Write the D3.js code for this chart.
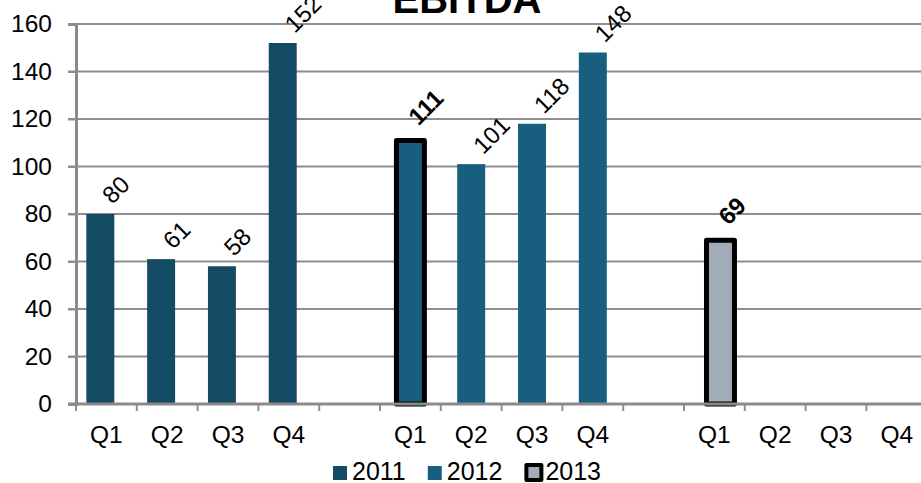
<!DOCTYPE html>
<html>
<head>
<meta charset="utf-8">
<script src="https://cdn.jsdelivr.net/npm/d3@7"></script>
<style>
  body { margin: 0; background: #fff; }
  svg { display: block; font-family: "Liberation Sans", Arial, sans-serif; }
</style>
</head>
<body>
<div id="chart"></div>
<script>
// chart data
var quarters = ["Q1", "Q2", "Q3", "Q4"];
var years = ["2011", "2012", "2013"];
var values2011 = [80, 61, 58, 152];
var values2012 = [111, 101, 118, 148];
var values2013 = [69, null, null, null];
var outlined = [["2012", "Q1"], ["2013", "Q1"]];
var yTicks = [0, 20, 40, 60, 80, 100, 120, 140, 160];

var colors = { "2011": "#134a64", "2012": "#185e7e", "2013": "#a1acb8" };

var seriesValues = { "2011": values2011, "2012": values2012, "2013": values2013 };

var width = 921, height = 483;
var margin = { top: 24, left: 76, bottom: 79 };
var slot = 60.8;

var svg = d3.select("#chart").append("svg")
    .attr("width", width)
    .attr("height", height);

// one slot per quarter plus an empty slot between years
var slots = [];
years.forEach(function(y, i) {
    quarters.forEach(function(q) { slots.push(y + "-" + q); });
    if (i < years.length - 1) slots.push(y + "-gap");
});

var x = d3.scaleBand()
    .domain(slots)
    .range([margin.left, margin.left + slots.length * slot])
    .padding(0);

var y = d3.scaleLinear()
    .domain([0, 160])
    .range([height - margin.bottom, margin.top]);

var offset = d3.scalePoint()
    .domain(years)
    .range([-x.bandwidth() * 0.1, x.bandwidth() * 0.1]);

var barW = x.bandwidth() * 0.46;

// gridlines
svg.append("g")
    .selectAll("line")
    .data(yTicks.slice(1))
    .enter().append("line")
        .attr("x1", margin.left - 8)
        .attr("x2", width)
        .attr("y1", function(d) { return y(d); })
        .attr("y2", function(d) { return y(d); })
        .attr("stroke", "#8e8e8e")
        .attr("stroke-width", 2);

// y axis
var yAxis = svg.append("g")
    .attr("transform", "translate(" + margin.left + ",0)")
    .call(d3.axisLeft(y).tickValues(yTicks).tickSize(8).tickPadding(16));
yAxis.select(".domain").attr("stroke", "#8a8a8a").attr("stroke-width", 3);
yAxis.selectAll(".tick line").attr("stroke", "#8e8e8e").attr("stroke-width", 2);
yAxis.selectAll(".tick text").attr("font-size", 24.5).attr("fill", "#000")
    .attr("font-family", "Liberation Sans, Arial, sans-serif");

// bars
var bars = [];
years.forEach(function(yr) {
    seriesValues[yr].forEach(function(v, i) {
        if (v == null) return;
        var isOut = outlined.some(function(o) { return o[0] === yr && o[1] === quarters[i]; });
        bars.push({ year: yr, q: quarters[i], value: v, outlined: isOut });
    });
});

function cx(d) { return x(d.year + "-" + d.q) + x.bandwidth() / 2 + offset(d.year); }

svg.append("g")
    .selectAll("rect")
    .data(bars)
    .enter().append("rect")
        .attr("x", function(d) { return cx(d) - barW / 2; })
        .attr("y", function(d) { return y(d.value); })
        .attr("width", barW)
        .attr("height", function(d) { return y(0) - y(d.value); })
        .attr("fill", function(d) { return colors[d.year]; })
        .attr("stroke", function(d) { return d.outlined ? "#000" : "none"; })
        .attr("stroke-width", 5)
        .attr("stroke-linejoin", "round");

// x axis line and tick marks at slot edges
svg.append("line")
    .attr("x1", margin.left - 8).attr("x2", width)
    .attr("y1", y(0)).attr("y2", y(0))
    .attr("stroke", "#8a8a8a").attr("stroke-width", 3);

svg.append("g")
    .selectAll("line")
    .data(slots)
    .enter().append("line")
        .attr("x1", function(d) { return x(d); })
        .attr("x2", function(d) { return x(d); })
        .attr("y1", y(0))
        .attr("y2", y(0) + 7)
        .attr("stroke", "#8e8e8e")
        .attr("stroke-width", 2);

svg.append("g")
    .selectAll("text")
    .data(slots.filter(function(s) { return s.indexOf("gap") < 0; }))
    .enter().append("text")
        .attr("x", function(d) { return x(d) + x.bandwidth() / 2; })
        .attr("y", y(0) + 39)
        .attr("text-anchor", "middle")
        .attr("font-size", 24.5)
        .text(function(d) { return d.split("-")[1]; });

// value labels, rotated
svg.append("g")
    .selectAll("text")
    .data(bars)
    .enter().append("text")
        .attr("transform", function(d) {
            return "translate(" + (cx(d) + (d.outlined ? 8 : 12)) + "," + (y(d.value) - (d.outlined ? 14 : 9)) + ") rotate(-45)";
        })
        .attr("font-size", 24)
        .attr("font-weight", function(d) { return d.outlined ? "bold" : "normal"; })
        .text(function(d) { return d.value; });

// title
svg.append("text")
    .attr("x", 467)
    .attr("y", 13)
    .attr("text-anchor", "middle")
    .attr("font-size", 40)
    .attr("font-weight", "bold")
    .text("EBITDA");

// legend
var legend = svg.append("g").attr("transform", "translate(333,480)");
var lx = 0;
years.forEach(function(yr) {
    var g = legend.append("g").attr("transform", "translate(" + lx + ",0)");
    if (yr === "2013") {
        g.append("rect").attr("x", 2).attr("y", -15).attr("width", 15).attr("height", 15)
            .attr("fill", colors[yr]).attr("stroke", "#000").attr("stroke-width", 4)
            .attr("stroke-linejoin", "round");
    } else {
        g.append("rect").attr("x", 0).attr("y", -14).attr("width", 14).attr("height", 14)
            .attr("fill", colors[yr]);
    }
    var t = g.append("text")
        .attr("x", yr === "2013" ? 21 : 19)
        .attr("y", 0)
        .attr("font-size", 25)
        .text(yr);
    lx += (yr === "2013" ? 21 : 19) + t.node().getComputedTextLength() + 22;
});
</script>
</body>
</html>
